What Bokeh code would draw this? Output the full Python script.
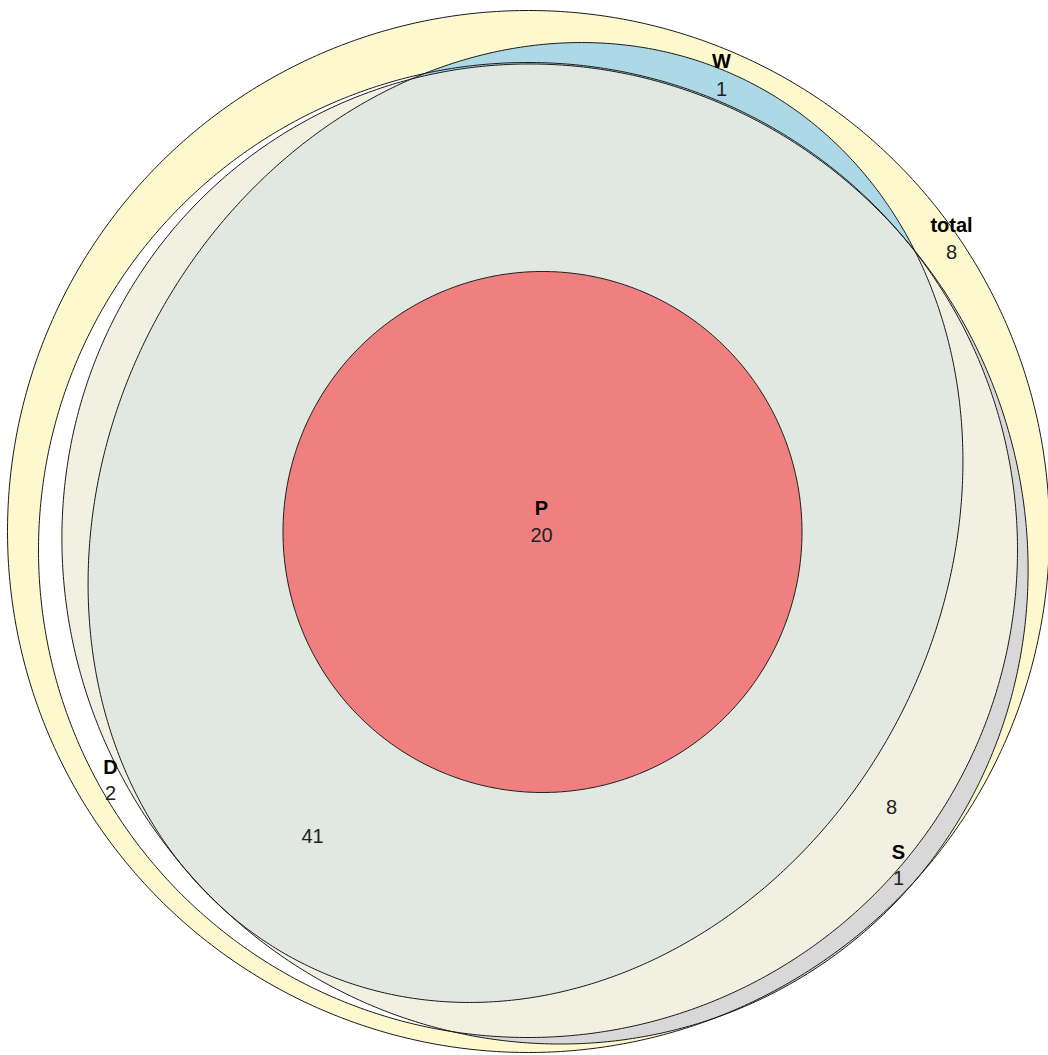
import numpy as np
from bokeh.plotting import figure
from bokeh.models import Range1d, ColumnDataSource
from bokeh.core.properties import value
from bokeh.embed import file_html
from bokeh.resources import INLINE

# ---- data: fitted Euler ellipses (diagram units) ----
set_names = ["total", "W", "P", "S", "D"]
ell_cx = [528.0, 525.0, 542.0, 544.5, 527.5]
ell_cy = [531.0, 522.0, 531.5, 553.5, 549.5]
ell_a = [521.0, 494.0, 259.5, 495.0, 489.5]
ell_b = [521.0, 421.5, 260.5, 478.0, 487.5]
ell_phi = [0.0, -63.0, 0.0, 57.0, 0.0]

# set labels
set_label_x = [951, 721, 541, 898, 110]
set_label_y = [224, 60, 507, 851, 766]

# region counts
region_counts = ["8", "1", "20", "1", "2", "8", "41"]
count_x = [951, 721, 541, 898, 110, 891, 312]
count_y = [251, 88, 534, 877, 792, 806, 835]

# ---- geometry helpers ----
def ellipse_pts(i, n=720):
    t = np.linspace(0, 2 * np.pi, n, endpoint=False)
    ph = np.radians(ell_phi[i])
    x = ell_cx[i] + ell_a[i] * np.cos(t) * np.cos(ph) - ell_b[i] * np.sin(t) * np.sin(ph)
    y = ell_cy[i] + ell_a[i] * np.cos(t) * np.sin(ph) + ell_b[i] * np.sin(t) * np.cos(ph)
    return list(zip(x, y))

def signed_area(poly):
    s = 0.0
    for k in range(len(poly)):
        x1, y1 = poly[k]
        x2, y2 = poly[(k + 1) % len(poly)]
        s += x1 * y2 - x2 * y1
    return s / 2

def clip(subject, clipper):
    orient = 1.0 if signed_area(clipper) > 0 else -1.0
    out = subject
    n = len(clipper)
    for k in range(n):
        ax, ay = clipper[k]
        bx, by = clipper[(k + 1) % n]
        def inside(p):
            return orient * ((bx - ax) * (p[1] - ay) - (by - ay) * (p[0] - ax)) >= 0
        def inter(p, q):
            dx, dy = q[0] - p[0], q[1] - p[1]
            ex, ey = bx - ax, by - ay
            den = dx * ey - dy * ex
            if den == 0:
                return q
            tt = ((ax - p[0]) * ey - (ay - p[1]) * ex) / den
            return (p[0] + tt * dx, p[1] + tt * dy)
        inp = out
        out = []
        if not inp:
            break
        s = inp[-1]
        for e in inp:
            if inside(e):
                if not inside(s):
                    out.append(inter(s, e))
                out.append(e)
            elif inside(s):
                out.append(inter(s, e))
            s = e
    return out

idx = {nm: k for k, nm in enumerate(set_names)}
T = ellipse_pts(idx["total"])
W = ellipse_pts(idx["W"])
P = ellipse_pts(idx["P"])
S = ellipse_pts(idx["S"])
D = ellipse_pts(idx["D"])
DS = clip(D, S)
WDS = clip(W, DS)

# ---- figure ----
p = figure(width=1048, height=1055, x_range=Range1d(0, 1048), y_range=Range1d(1055, 0),
           output_backend="svg", toolbar_location=None, min_border=0)
p.axis.visible = False
p.grid.visible = False
p.outline_line_color = None
p.background_fill_color = "white"

def patch(poly, fill):
    xs = [q[0] for q in poly]
    ys = [q[1] for q in poly]
    p.patch(xs, ys, fill_color=fill, line_color=None)

patch(T, "#FEF8CF")
patch(S, "#D8D8D8")
patch(D, "#FFFFFF")
patch(DS, "#F2F0E1")
patch(W, "#ADD8E6")
patch(WDS, "#E1E8E1")
patch(P, "#F08080")

for poly in [T, S, D, W, P]:
    xs = [q[0] for q in poly] + [poly[0][0]]
    ys = [q[1] for q in poly] + [poly[0][1]]
    p.line(xs, ys, line_color="#1a1a1a", line_width=1)

src_l = ColumnDataSource(dict(x=set_label_x, y=set_label_y, t=set_names))
p.text(x="x", y="y", text="t", source=src_l, text_font=value("Liberation Sans"),
       text_font_size="20px", text_font_style="bold", text_align="center",
       text_baseline="middle", text_color="black")
src_c = ColumnDataSource(dict(x=count_x, y=count_y, t=region_counts))
p.text(x="x", y="y", text="t", source=src_c, text_font=value("Liberation Sans"),
       text_font_size="20px", text_align="center",
       text_baseline="middle", text_color="#222222")

open("out.html", "w").write(file_html(p, INLINE))
